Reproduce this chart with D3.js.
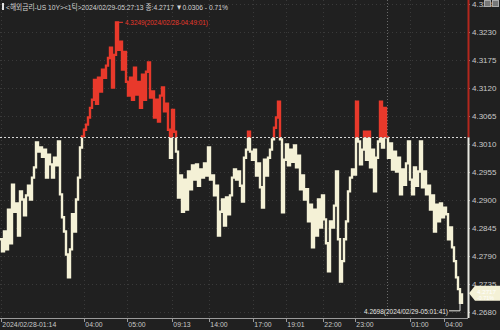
<!DOCTYPE html>
<html>
<head>
<meta charset="utf-8">
<script src="https://cdn.jsdelivr.net/npm/d3@7"></script>
<style>
  html, body { margin: 0; padding: 0; background: #202020; }
  svg { display: block; }
  text { font-family: "Liberation Sans", "Noto Sans CJK KR", sans-serif; }
  .axis path, .axis line { stroke: #9a9a9a; }
  .axis text { fill: #c9c9c9; font-size: 8px; }
</style>
</head>
<body>
<div id="chart"></div>
<script>
// tick prices (US 10Y), left to right
const prices = [
  4.2823, 4.2799, 4.2838, 4.2803, 4.2881, 4.2815, 4.2930, 4.2877, 4.2893, 4.2830,
  4.2917, 4.2901, 4.2870, 4.2909, 4.2928, 4.2901, 4.2944, 4.2964, 4.3013, 4.2995,
  4.3003, 4.2985, 4.2999, 4.2944, 4.2989, 4.2970, 4.2944, 4.2983, 4.2968, 4.3015,
  4.2911, 4.2866, 4.2838, 4.2793, 4.2748, 4.2803, 4.2872, 4.2838, 4.2901, 4.2944,
  4.3003, 4.3025, 4.3038, 4.3048, 4.3062, 4.3081, 4.3097, 4.3136, 4.3089, 4.3140,
  4.3113, 4.3156, 4.3140, 4.3164, 4.3179, 4.3199, 4.3121, 4.3185, 4.3249, 4.3195,
  4.3211, 4.3156, 4.3191, 4.3132, 4.3105, 4.3140, 4.3097, 4.3160, 4.3107, 4.3132,
  4.3081, 4.3146, 4.3097, 4.3152, 4.3170, 4.3101, 4.3113, 4.3062, 4.3097, 4.3054,
  4.3105, 4.3121, 4.3074, 4.3089, 4.3038, 4.2983, 4.3077, 4.3034, 4.2995, 4.2905,
  4.2948, 4.2877, 4.2940, 4.2881, 4.2956, 4.2921, 4.2968, 4.2940, 4.2970, 4.2928,
  4.2960, 4.2944, 4.2972, 4.2948, 4.3003, 4.2940, 4.2948, 4.2909, 4.2928, 4.2830,
  4.2877, 4.2901, 4.2850, 4.2905, 4.2872, 4.2909, 4.2944, 4.2960, 4.2940, 4.2956,
  4.2928, 4.2897, 4.2983, 4.2999, 4.3034, 4.2995, 4.2979, 4.2999, 4.2948, 4.2972,
  4.2925, 4.2885, 4.2979, 4.2948, 4.2983, 4.2999, 4.3019, 4.3042, 4.3062, 4.3093,
  4.3019, 4.2876, 4.2979, 4.3009, 4.2968, 4.2999, 4.2975, 4.3007, 4.2964, 4.2987,
  4.2921, 4.2948, 4.2901, 4.2921, 4.2858, 4.2891, 4.2807, 4.2881, 4.2830, 4.2901,
  4.2846, 4.2909, 4.2862, 4.2815, 4.2760, 4.2858, 4.2846, 4.2889, 4.2956, 4.2823,
  4.2740, 4.2780, 4.2823, 4.2858, 4.2917, 4.2944, 4.2960, 4.2950, 4.3093, 4.3015,
  4.2970, 4.2999, 4.3034, 4.2979, 4.3034, 4.2964, 4.2999, 4.2917, 4.2983, 4.3015,
  4.3093, 4.3003, 4.3081, 4.3023, 4.2983, 4.3011, 4.2960, 4.2995, 4.2956, 4.2983,
  4.2911, 4.2960, 4.2930, 4.2972, 4.3015, 4.2940, 4.2911, 4.2964, 4.2928, 4.2956,
  4.3015, 4.2925, 4.2956, 4.2911, 4.2928, 4.2881, 4.2909, 4.2838, 4.2891, 4.2858,
  4.2893, 4.2866, 4.2885, 4.2872, 4.2823, 4.2846, 4.2807, 4.2780, 4.2748, 4.2725,
  4.2698, 4.2717
]

// x axis: position (in ticks) and label
const xTickIdx = [0.5, 42, 63.5, 86, 104.5, 126.5, 143, 161.5, 177.5, 205, 222]
const xTickLabels = ["2024/02/28-01:14", "04:00", "05:00", "09:13", "14:00", "17:00",
                     "19:01", "22:00", "23:00", "01:00", "04:00"]
const dayBreakIdx = 193.5

// y axis
const yTicks = [4.3285, 4.3230, 4.3175, 4.3120, 4.3065, 4.3010, 4.2955, 4.2900, 4.2845, 4.2790, 4.2735, 4.2680]

const prevClose = 4.3023
const lastPrice = 4.2717
const lastChange = "-0.71%"
const maxLabel = "4.3249(2024/02/28-04:49:01)"
const minLabel = "4.2698(2024/02/29-05:01:41)"
const header = "<해외금리-US 10Y><1틱>2024/02/29-05:27:13 종:4.2717 ▼0.0306 - 0.71%"

const width = 500
const height = 330
const plotRight = 468
const plotBottom = 318

const red = "#e8392b"
const cream = "#f4f1d6"

const svg = d3.select("#chart").append("svg")
    .attr("width", width)
    .attr("height", height)

svg.append("rect").attr("width", width).attr("height", height).attr("fill", "#202020")

const x = d3.scaleLinear().domain([0, prices.length - 1]).range([0, 462])
const y = d3.scaleLinear().domain([4.2680, 4.3285]).range([312, 4])

// grid
const grid = svg.append("g")
grid.selectAll(".hg").data(yTicks).join("line")
    .attr("x1", 0).attr("x2", plotRight)
    .attr("y1", d => Math.round(y(d)) + 0.5).attr("y2", d => Math.round(y(d)) + 0.5)
    .attr("stroke", "#3a3a3a").attr("stroke-dasharray", "1,3")
grid.selectAll(".vg").data(xTickIdx).join("line")
    .attr("x1", d => Math.round(x(d)) + 0.5).attr("x2", d => Math.round(x(d)) + 0.5)
    .attr("y1", 0).attr("y2", plotBottom)
    .attr("stroke", "#3a3a3a").attr("stroke-dasharray", "1,3")
grid.append("line")
    .attr("x1", Math.round(x(dayBreakIdx)) + 0.5).attr("x2", Math.round(x(dayBreakIdx)) + 0.5)
    .attr("y1", 0).attr("y2", plotBottom)
    .attr("stroke", "#6a6a6a").attr("stroke-dasharray", "1,2")

// clip above / below previous close
const yPrev = y(prevClose)
const defs = svg.append("defs")
defs.append("clipPath").attr("id", "above")
    .append("rect").attr("x", 0).attr("y", 0).attr("width", plotRight).attr("height", yPrev)
defs.append("clipPath").attr("id", "below")
    .append("rect").attr("x", 0).attr("y", yPrev).attr("width", plotRight).attr("height", plotBottom - yPrev)

const line = d3.line()
    .x((d, i) => x(i))
    .y(d => y(d))
    .curve(d3.curveStepAfter)

svg.append("path").datum(prices)
    .attr("d", line).attr("fill", "none")
    .attr("stroke", cream).attr("stroke-width", 2.4)
    .attr("clip-path", "url(#below)")
svg.append("path").datum(prices)
    .attr("d", line).attr("fill", "none")
    .attr("stroke", red).attr("stroke-width", 2.4)
    .attr("clip-path", "url(#above)")

// previous close line
svg.append("line")
    .attr("x1", 0).attr("x2", plotRight)
    .attr("y1", Math.round(yPrev) + 0.5).attr("y2", Math.round(yPrev) + 0.5)
    .attr("stroke", "#d8d8d8").attr("stroke-dasharray", "2,2")

// axes
const xAxis = d3.axisBottom(x).tickValues(xTickIdx).tickFormat((d, i) => xTickLabels[i]).tickSize(4)
const xAxisGroup = svg.append("g").attr("class", "axis")
    .attr("transform", `translate(0, ${plotBottom})`)
    .call(xAxis)
xAxisGroup.select(".domain").attr("d", `M0,0.5H${plotRight}`)
xAxisGroup.selectAll(".tick text")
    .attr("text-anchor", "start").attr("x", 1).attr("y", 3).attr("dy", "0.71em")
    .attr("transform", "scale(0.86,1)")

const yAxis = d3.axisRight(y).tickValues(yTicks).tickFormat(d3.format(".4f")).tickSize(2)
const yAxisGroup = svg.append("g").attr("class", "axis")
    .attr("transform", `translate(${plotRight}, 0)`)
    .call(yAxis)
yAxisGroup.select(".domain").remove()
yAxisGroup.selectAll(".tick text").attr("x", 4)

// right axis line, red above previous close
svg.append("line").attr("x1", plotRight + 0.5).attr("x2", plotRight + 0.5)
    .attr("y1", 0).attr("y2", yPrev).attr("stroke", "#b3271d").attr("stroke-width", 2)
svg.append("line").attr("x1", plotRight + 0.5).attr("x2", plotRight + 0.5)
    .attr("y1", yPrev).attr("y2", plotBottom).attr("stroke", "#e8e8e0").attr("stroke-width", 2)

// max marker
const maxI = prices.indexOf(d3.max(prices))
svg.append("path")
    .attr("d", `M${x(maxI)},${y(prices[maxI])}H${x(maxI) + 7}`)
    .attr("stroke", red).attr("fill", "none")
svg.append("text").attr("x", x(maxI) + 9).attr("y", y(prices[maxI]) + 3)
    .attr("fill", red).attr("font-size", "8px")
    .attr("textLength", 83).attr("lengthAdjust", "spacingAndGlyphs").text(maxLabel)

// min marker
const minI = prices.indexOf(d3.min(prices))
svg.append("path")
    .attr("d", `M${x(minI)},${y(prices[minI])}V${y(prices[minI]) + 8}H${x(minI) - 11}`)
    .attr("stroke", "#e6e6e0").attr("fill", "none")
svg.append("text").attr("x", x(minI) - 96).attr("y", y(prices[minI]) + 11)
    .attr("fill", "#e6e6e0").attr("font-size", "8px")
    .attr("textLength", 84).attr("lengthAdjust", "spacingAndGlyphs").text(minLabel)

// last price tag
const yl = y(lastPrice)
svg.append("path")
    .attr("d", `M${plotRight + 1},${yl}L${plotRight + 7},${yl - 7.5}H${width}V${yl + 7.5}H${plotRight + 7}Z`)
    .attr("fill", cream)
svg.append("text").attr("x", 477).attr("y", yl + 1).attr("fill", "#ffffff")
    .attr("font-size", "5.5px").attr("textLength", 19).attr("lengthAdjust", "spacingAndGlyphs")
    .text(lastPrice.toFixed(4))
svg.append("text").attr("x", 477).attr("y", yl + 6.5).attr("fill", "#ffffff")
    .attr("font-size", "5.5px").attr("textLength", 17).attr("lengthAdjust", "spacingAndGlyphs")
    .text(lastChange)

// header
svg.append("rect").attr("x", 2).attr("y", 3).attr("width", 2).attr("height", 7).attr("fill", "#e0e0e0")
svg.append("text").attr("x", 6).attr("y", 10)
    .attr("fill", "#d4d4d4").attr("font-size", "8px")
    .attr("textLength", 222).attr("lengthAdjust", "spacingAndGlyphs").text(header)

// small window buttons, top right
svg.append("rect").attr("x", 484.5).attr("y", 0.5).attr("width", 6).attr("height", 6)
    .attr("fill", "#777").attr("stroke", "#aaa")
svg.append("rect").attr("x", 492.5).attr("y", 0.5).attr("width", 6).attr("height", 6)
    .attr("fill", "#777").attr("stroke", "#aaa")
</script>
</body>
</html>
